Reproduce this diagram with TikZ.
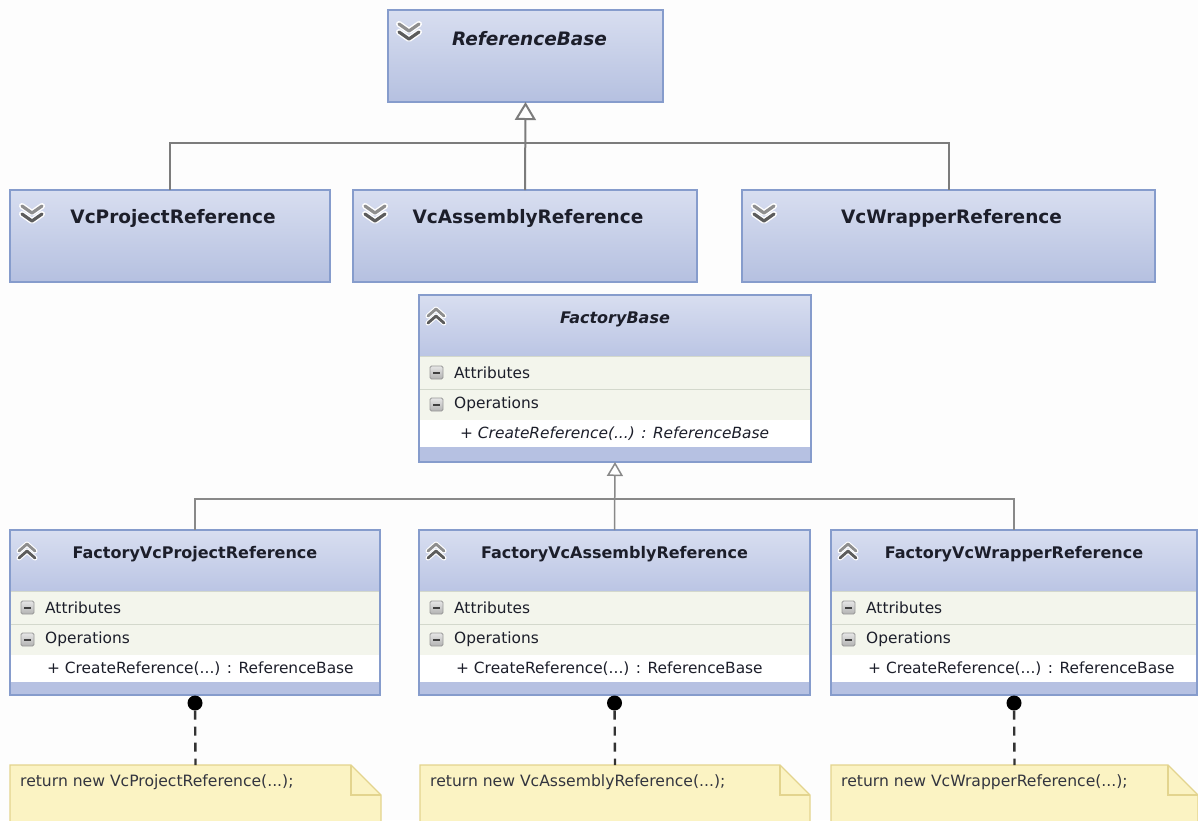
\documentclass[tikz,border=0pt]{standalone}
\usepackage{fontspec}
\setmainfont{DejaVu Sans}
\usetikzlibrary{arrows.meta,calc}

\definecolor{bgcol}{HTML}{FDFDFD}
\definecolor{hdtop}{HTML}{D8DEF0}
\definecolor{hdbot}{HTML}{B5C0E0}
\definecolor{fhtop}{HTML}{D8DEF0}
\definecolor{fhbot}{HTML}{BBC5E4}
\definecolor{clsborder}{HTML}{869CCC}
\definecolor{rowcol}{HTML}{F3F5EC}
\definecolor{rowsepcol}{HTML}{D3D8CC}
\definecolor{bandcol}{HTML}{B6C1E2}
\definecolor{notefill}{HTML}{FBF3C3}
\definecolor{noteline}{HTML}{E3D48E}
\definecolor{txtcol}{HTML}{1C1E2A}
\definecolor{linecol}{HTML}{7C7C7C}
\definecolor{chevA}{HTML}{8E8E8E}
\definecolor{chevB}{HTML}{5C5C5C}

\tikzset{
  cls/.style={draw=clsborder, line width=1.3pt, inner sep=0pt, outer sep=0pt,
    rectangle, anchor=north west},
  smallcls/.style={cls, top color=hdtop, bottom color=hdbot},
  bigtitle/.style={text=txtcol, inner sep=0pt, font=\fontsize{18.5}{22}\selectfont\bfseries},
  ftitle/.style={text=txtcol, inner sep=0pt, font=\fontsize{16}{19}\selectfont\bfseries},
  rowtext/.style={text=txtcol, inner sep=0pt, anchor=west, font=\fontsize{15.4}{18}\selectfont},
  notetext/.style={text=txtcol!90, inner sep=0pt, anchor=west, font=\fontsize{15.6}{18}\selectfont},
  notebox/.style={inner sep=0pt, outer sep=0pt, anchor=north west, minimum height=80pt},
  genbig/.style={draw=linecol, line width=2pt},
  gensmall/.style={draw=linecol!90, line width=1.5pt},
  dotnode/.style={circle, fill=black, inner sep=0pt, minimum size=15pt},
  dashline/.style={draw=black!80, line width=2.4pt, dash pattern=on 9pt off 7pt},
  chevdown/.pic={
    \foreach \dy in {0,8}{
      \draw[white, line width=6pt, line cap=round, line join=round]
        (0,\dy) -- (10,\dy+7) -- (20,\dy);}
    \draw[chevA, line width=3.2pt, line cap=round, line join=round] (0,0) -- (10,7) -- (20,0);
    \draw[chevB, line width=3.2pt, line cap=round, line join=round] (0,8) -- (10,15) -- (20,8);
  },
  chevup/.pic={
    \foreach \dy in {0,7}{
      \draw[white, line width=5pt, line cap=round, line join=round]
        (0,\dy+7) -- (8,\dy) -- (16,\dy+7);}
    \draw[chevA, line width=2.8pt, line cap=round, line join=round] (0,7) -- (8,0) -- (16,7);
    \draw[chevB, line width=2.8pt, line cap=round, line join=round] (0,14) -- (8,7) -- (16,14);
  },
}

% small collapse box with a minus sign, centred at (#1,#2)
\newcommand\minusbox[2]{%
  \shade[top color=gray!20, bottom color=gray!60, draw=gray!80, line width=0.8pt,
    rounded corners=1.5pt] (#1-6.5,#2-6.5) rectangle (#1+6.5,#2+6.5);
  \draw[black!75, line width=2pt] (#1-3.5,#2) -- (#1+3.5,#2);}

% class with compartments: name, x, y, width, height, title, method, method x
\newcommand\umlclass[8]{%
  \begin{scope}[shift={(#2,#3)}]
    \shade[top color=fhtop, bottom color=fhbot] (0,0) rectangle (#4,61);
    \fill[rowcol] (0,61) rectangle (#4,125);
    \draw[rowsepcol, line width=1pt] (0,61) -- (#4,61);
    \draw[rowsepcol, line width=1pt] (0,94) -- (#4,94);
    \fill[white] (0,125) rectangle (#4,152);
    \fill[bandcol] (0,152) rectangle (#4,#5);
    \pic at (9,14) {chevup};
    \minusbox{17.5}{77.5}
    \minusbox{17.5}{109.5}
    \node[cls, minimum width=#4pt, minimum height=#5pt] (#1) at (0,0) {};
    \node[ftitle] (#1-title) at (#4/2,24.5) {#6};
    \node[rowtext] (#1-attr) at (35,77.5) {Attributes};
    \node[rowtext] (#1-oper) at (35,109.5) {Operations};
    \node[rowtext] (#1-meth) at (#8,138.5) {#7};
  \end{scope}}

% note with a folded corner: name, x, y, width, text
\newcommand\umlnote[5]{%
  \node[notebox, minimum width=#4pt] (#1) at (#2,#3) {};
  \filldraw[fill=notefill, draw=noteline, line width=1.2pt]
    (#1.north west) -- ($(#1.north east)+(-30,0)$) -- ($(#1.north east)+(0,30)$)
    -- (#1.south east) -- (#1.south west) -- cycle;
  \draw[noteline, line width=1.2pt] ($(#1.north east)+(-30,0)$) |- ($(#1.north east)+(0,30)$);
  \node[notetext] (#1-text) at ($(#1.north west)+(10,17)$) {#5};}

\begin{document}
\begin{tikzpicture}[x=1pt, y=-1pt]
  \useasboundingbox (0,0) rectangle (1198,820);
  \clip (0,0) rectangle (1198,820);
  \fill[bgcol] (0,0) rectangle (1198,820);

  % reference hierarchy
  \node[smallcls, minimum width=275pt, minimum height=92pt] (refbase) at (388,10) {};
  \node[bigtitle, font=\fontsize{18.5}{22}\selectfont\bfseries\itshape] (refbaseT)
    at ($(refbase.north)+(4,29)$) {ReferenceBase};
  \pic at ($(refbase.north west)+(11,14)$) {chevdown};

  \node[smallcls, minimum width=320pt, minimum height=92pt] (vcproj) at (10,190) {};
  \node[bigtitle] (vcprojT) at ($(vcproj.north)+(3,28.5)$) {VcProjectReference};
  \pic at ($(vcproj.north west)+(12,16)$) {chevdown};

  \node[smallcls, minimum width=344pt, minimum height=92pt] (vcasm) at (353,190) {};
  \node[bigtitle] (vcasmT) at ($(vcasm.north)+(3,28.5)$) {VcAssemblyReference};
  \pic at ($(vcasm.north west)+(12,16)$) {chevdown};

  \node[smallcls, minimum width=413pt, minimum height=92pt] (vcwrap) at (742,190) {};
  \node[bigtitle] (vcwrapT) at ($(vcwrap.north)+(3,28.5)$) {VcWrapperReference};
  \pic at ($(vcwrap.north west)+(12,16)$) {chevdown};

  \coordinate (bus1) at ($(refbase.south)+(0,41)$);
  \draw[genbig] (vcproj.north) |- (bus1) -| (vcwrap.north);
  \draw[genbig, -{Triangle[open, fill=white, length=18pt, width=21pt]}]
    (vcasm.north) -- (refbase.south);

  % factory hierarchy
  \umlclass{fbase}{419}{295}{392}{167}{\itshape FactoryBase}
    {\itshape + CreateReference(...) : ReferenceBase}{41}
  \umlclass{fvp}{10}{530}{370}{165}{FactoryVcProjectReference}
    {+ CreateReference(...) : ReferenceBase}{37}
  \umlclass{fva}{419}{530}{391}{165}{FactoryVcAssemblyReference}
    {+ CreateReference(...) : ReferenceBase}{37}
  \umlclass{fvw}{831}{530}{366}{165}{FactoryVcWrapperReference}
    {+ CreateReference(...) : ReferenceBase}{37}

  \coordinate (bus2) at ($(fbase.south)+(0,37)$);
  \draw[gensmall] (fvp.north) |- (bus2) -| (fvw.north);
  \draw[gensmall, -{Triangle[open, fill=white, length=14pt, width=16pt]}]
    (fva.north) -- (fbase.south);

  % implementation notes
  \umlnote{note1}{10}{765}{371}{return new VcProjectReference(...);}
  \umlnote{note2}{420}{765}{390}{return new VcAssemblyReference(...);}
  \umlnote{note3}{831}{765}{367}{return new VcWrapperReference(...);}

  \node[dotnode] (dot1) at ($(fvp.south)+(0,8)$) {};
  \node[dotnode] (dot2) at ($(fva.south)+(0,8)$) {};
  \node[dotnode] (dot3) at ($(fvw.south)+(0,8)$) {};
  \draw[dashline] (dot1) -- (note1.north);
  \draw[dashline] (dot2) -- (note2.north);
  \draw[dashline] (dot3) -- (note3.north);
\end{tikzpicture}
\end{document}
